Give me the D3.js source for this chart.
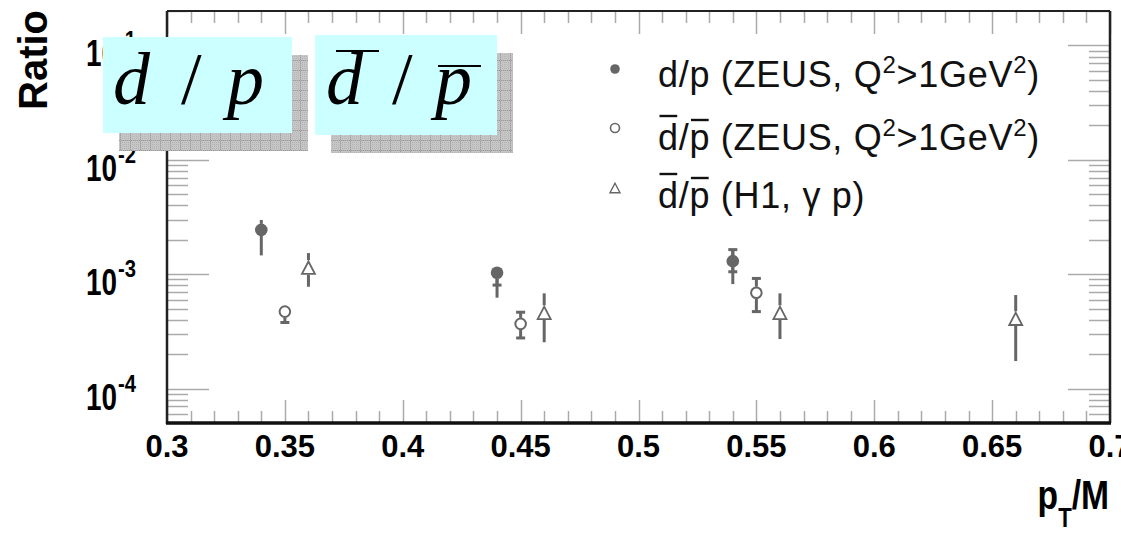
<!DOCTYPE html>
<html><head><meta charset="utf-8">
<script src="https://cdn.jsdelivr.net/npm/d3@7"></script>
<style>
body{margin:0;background:#fff;overflow:hidden;}
svg{display:block;}
</style></head><body>
<svg id="chart" width="1121" height="533"></svg>
<script>
// ZEUS d/p  (stat errors with caps, total errors without)
const dpX = [0.34, 0.44, 0.54];
const dpY = [2.44e-3, 1.03e-3, 1.30e-3];
const dpStatLo = [2.30e-3, 8.03e-4, 1.05e-3];
const dpStatHi = [2.60e-3, 1.10e-3, 1.64e-3];
const dpTotLo = [1.46e-3, 6.23e-4, 8.19e-4];
const dpTotHi = [2.98e-3, 1.10e-3, 1.64e-3];
// ZEUS dbar/pbar
const dbX = [0.35, 0.45, 0.55];
const dbY = [4.71e-4, 3.68e-4, 6.88e-4];
const dbStatLo = [3.78e-4, 2.77e-4, 4.71e-4];
const dbStatHi = [5.10e-4, 4.65e-4, 9.18e-4];
// H1 photoproduction dbar/pbar
const h1X = [0.36, 0.46, 0.56, 0.66];
const h1Y = [1.14e-3, 4.59e-4, 4.59e-4, 4.07e-4];
const h1Lo = [7.76e-4, 2.54e-4, 2.71e-4, 1.74e-4];
const h1Hi = [1.53e-3, 6.80e-4, 6.80e-4, 6.57e-4];

const xMajorTicks = [0.3, 0.35, 0.4, 0.45, 0.5, 0.55, 0.6, 0.65, 0.7];
const xTickLabels = ["0.3", "0.35", "0.4", "0.45", "0.5", "0.55", "0.6", "0.65", "0.7"];
const yDecades = [1e-4, 1e-3, 1e-2, 1e-1];
const yExponents = ["-4", "-3", "-2", "-1"];

const legendEntries = [
  [{t:"d"},{t:"/"},{t:"p"},{t:" (ZEUS, Q"},{t:"2",sup:true},{t:">1GeV"},{t:"2",sup:true},{t:")"}],
  [{t:"d",bar:true},{t:"/"},{t:"p",bar:true},{t:" (ZEUS, Q"},{t:"2",sup:true},{t:">1GeV"},{t:"2",sup:true},{t:")"}],
  [{t:"d",bar:true},{t:"/"},{t:"p",bar:true},{t:" (H1, \u03B3 p)"}]
];
const legendMarkers = ["filled", "open", "triangle"];

const SANS = "'Liberation Sans', Arial, Helvetica, sans-serif";
const SERIF = "'Liberation Serif', 'Times New Roman', serif";

const svg = d3.select("#chart").style("font-family", SANS);
const plot = {left:167, right:1110, top:11, bottom:423};

const x = d3.scaleLinear().domain([0.3, 0.7]).range([plot.left, plot.right]);
const y = d3.scaleLog().domain([5e-5, 0.2]).range([plot.bottom, plot.top]);

const MARK = "#666";
const TICK = "#aaa";

// ---- tick marks ----
const tickG = svg.append("g").attr("stroke", TICK).attr("stroke-width", 1.5);
x.ticks(40).forEach(t => {
  const major = Math.abs(t * 20 - Math.round(t * 20)) < 1e-6;
  const len = major ? 23 : 12;
  const px = Math.round(x(t)) + 0.5;
  tickG.append("line").attr("x1", px).attr("x2", px).attr("y1", plot.bottom).attr("y2", plot.bottom - len);
  tickG.append("line").attr("x1", px).attr("x2", px).attr("y1", plot.top).attr("y2", plot.top + len);
});
y.ticks().forEach(t => {
  const lg = Math.log10(t);
  const major = Math.abs(lg - Math.round(lg)) < 1e-9;
  const len = major ? 42 : 21;
  const py = Math.round(y(t)) + 0.5;
  tickG.append("line").attr("x1", plot.left).attr("x2", plot.left + len).attr("y1", py).attr("y2", py);
  tickG.append("line").attr("x1", plot.right).attr("x2", plot.right - len).attr("y1", py).attr("y2", py);
});

// ---- frame ----
svg.append("line").attr("x1", plot.left).attr("x2", plot.right).attr("y1", plot.top).attr("y2", plot.top)
  .attr("stroke", "#222").attr("stroke-width", 2);
svg.append("line").attr("x1", plot.right).attr("x2", plot.right).attr("y1", plot.top).attr("y2", plot.bottom)
  .attr("stroke", "#222").attr("stroke-width", 2.5);
svg.append("line").attr("x1", plot.left).attr("x2", plot.left).attr("y1", plot.top).attr("y2", plot.bottom + 1)
  .attr("stroke", "#222").attr("stroke-width", 2.5);
svg.append("line").attr("x1", plot.left - 1).attr("x2", plot.right + 1).attr("y1", plot.bottom).attr("y2", plot.bottom)
  .attr("stroke", "#111").attr("stroke-width", 3.5);

// ---- x tick labels ----
xMajorTicks.forEach((t, i) => {
  svg.append("text").attr("x", x(t)).attr("y", 457).attr("text-anchor", "middle")
    .attr("font-size", 31).attr("font-weight", "bold").attr("fill", "#000").text(xTickLabels[i]);
});

// ---- y tick labels (condensed bold, power-of-ten) ----
yDecades.forEach((t, i) => {
  const base = y(t);
  svg.append("text").attr("x", 86).attr("y", base + 21)
    .attr("font-size", 36).attr("font-weight", "bold").attr("fill", "#000")
    .attr("textLength", 31).attr("lengthAdjust", "spacingAndGlyphs").text("10");
  svg.append("text").attr("x", 118).attr("y", base + 3)
    .attr("font-size", 23).attr("font-weight", "bold").attr("fill", "#000")
    .attr("textLength", 18).attr("lengthAdjust", "spacingAndGlyphs").text(yExponents[i]);
});

// ---- axis titles ----
svg.append("text").attr("transform", "translate(47,10) rotate(-90)").attr("text-anchor", "end")
  .attr("font-size", 40).attr("font-weight", "bold").attr("fill", "#000").text("Ratio");
const xt = svg.append("text").attr("transform", "translate(1109,509) scale(0.82,1)").attr("text-anchor", "end")
  .attr("font-size", 41).attr("font-weight", "bold").attr("fill", "#000");
xt.append("tspan").text("p");
xt.append("tspan").attr("dy", 18).attr("font-size", 27).text("T");
xt.append("tspan").attr("dy", -18).text("/M");

// ---- markers & error bars ----
const dataG = svg.append("g");

// vertical error segment from the marker edge outwards, optional caps
function errorBar(cx, v, lo, hi, gapUp, gapDown, cap) {
  const cy = y(v);
  const yHi = y(hi), yLo = y(lo);
  if (yHi < cy - gapUp) {
    dataG.append("line").attr("x1", cx).attr("x2", cx).attr("y1", cy - gapUp).attr("y2", yHi)
      .attr("stroke", MARK).attr("stroke-width", 3);
    if (cap) dataG.append("line").attr("x1", cx - 4.5).attr("x2", cx + 4.5).attr("y1", yHi).attr("y2", yHi)
      .attr("stroke", MARK).attr("stroke-width", 3);
  }
  if (yLo > cy + gapDown) {
    dataG.append("line").attr("x1", cx).attr("x2", cx).attr("y1", cy + gapDown).attr("y2", yLo)
      .attr("stroke", MARK).attr("stroke-width", 3);
    if (cap) dataG.append("line").attr("x1", cx - 4.5).attr("x2", cx + 4.5).attr("y1", yLo).attr("y2", yLo)
      .attr("stroke", MARK).attr("stroke-width", 3);
  }
}

function triPath(cx, cy, s) {
  const h = s * 0.95;
  return `M${cx},${cy - h / 2} L${cx + s / 2},${cy + h / 2} L${cx - s / 2},${cy + h / 2} Z`;
}

// ZEUS d/p: filled circles
dpX.forEach((xv, i) => {
  errorBar(x(xv), dpY[i], dpTotLo[i], dpTotHi[i], 6, 6, false);
  errorBar(x(xv), dpY[i], dpStatLo[i], dpStatHi[i], 6, 6, true);
  dataG.append("circle").attr("cx", x(xv)).attr("cy", y(dpY[i])).attr("r", 6.3).attr("fill", MARK);
});
// ZEUS dbar/pbar: open circles
dbX.forEach((xv, i) => {
  errorBar(x(xv), dbY[i], dbStatLo[i], dbStatHi[i], 6, 6, true);
  dataG.append("circle").attr("cx", x(xv)).attr("cy", y(dbY[i])).attr("r", 5.3)
    .attr("fill", "none").attr("stroke", MARK).attr("stroke-width", 2);
});
// H1 dbar/pbar: open triangles
h1X.forEach((xv, i) => {
  errorBar(x(xv), h1Y[i], h1Lo[i], h1Hi[i], 7.5, 7, false);
  dataG.append("path").attr("d", triPath(x(xv), y(h1Y[i]), 13))
    .attr("fill", "none").attr("stroke", MARK).attr("stroke-width", 1.8).attr("stroke-linejoin", "miter");
});

// ---- legend ----
const legBase = [87, 150, 208];
const legMarkY = [69, 128, 188];
legendEntries.forEach((parts, r) => {
  const by = legBase[r];
  const my = legMarkY[r];
  const kind = legendMarkers[r];
  if (kind === "filled") svg.append("circle").attr("cx", 615).attr("cy", my).attr("r", 4.8).attr("fill", MARK);
  else if (kind === "open") svg.append("circle").attr("cx", 615).attr("cy", my).attr("r", 4.5)
    .attr("fill", "none").attr("stroke", MARK).attr("stroke-width", 1.6);
  else svg.append("path").attr("d", triPath(615, my, 10)).attr("fill", "none").attr("stroke", MARK).attr("stroke-width", 1.4);

  const t = svg.append("text").attr("x", 658).attr("y", by).attr("font-size", 36)
    .attr("letter-spacing", 0.7).attr("fill", "#111");
  const bars = [];
  let idx = 0, prevSup = false;
  parts.forEach(p => {
    const ts = t.append("tspan").text(p.t);
    if (p.sup) ts.attr("font-size", 24).attr("dy", -14);
    else if (prevSup) ts.attr("dy", 14);
    if (p.bar) bars.push({i: idx, ch: p.t});
    idx += p.t.length;
    prevSup = !!p.sup;
  });
  const node = t.node();
  bars.forEach(b => {
    const ext = node.getExtentOfChar(b.i);
    const ly = by - (b.ch === "d" ? 34 : 30);
    svg.append("line").attr("x1", ext.x + 1.5).attr("x2", ext.x + ext.width - 1.5)
      .attr("y1", ly).attr("y2", ly).attr("stroke", "#111").attr("stroke-width", 2.4);
  });
});

// ---- ratio label boxes ----
const defs = svg.append("defs");
const pat = defs.append("pattern").attr("id", "shadowGrid").attr("patternUnits", "userSpaceOnUse")
  .attr("width", 10).attr("height", 10);
pat.append("rect").attr("width", 10).attr("height", 10).attr("fill", "#c6c6c6");
pat.append("path").attr("d", "M0,0.5 H10 M0.5,0 V10").attr("stroke", "#9a9a9a").attr("stroke-width", 1);
const dots = defs.append("pattern").attr("id", "shadowDots").attr("patternUnits", "userSpaceOnUse")
  .attr("width", 2).attr("height", 2);
dots.append("rect").attr("width", 1).attr("height", 1).attr("fill", "#b4b4b4");

function labelBox(bx, by, bw, bh, sx, sy) {
  svg.append("rect").attr("x", bx + sx).attr("y", by + sy).attr("width", bw).attr("height", bh).attr("fill", "url(#shadowGrid)");
  svg.append("rect").attr("x", bx + sx).attr("y", by + sy).attr("width", bw).attr("height", bh).attr("fill", "url(#shadowDots)");
  svg.append("rect").attr("x", bx).attr("y", by).attr("width", bw).attr("height", bh).attr("fill", "#ccffff");
}
labelBox(103, 37, 189, 96, 16, 18);
labelBox(315, 35, 182, 100, 16, 18);

function glyph(gx, gy, s, italic) {
  svg.append("text").attr("x", gx).attr("y", gy).style("font-family", SERIF).attr("font-size", 74)
    .attr("font-style", italic ? "italic" : "normal").attr("fill", "#000").text(s);
}
glyph(113, 104, "d", true);
glyph(181, 104, "/", false);
glyph(227, 104, "p", true);
glyph(326, 104, "d", true);
glyph(392, 104, "/", false);
glyph(435, 104, "p", true);
svg.append("line").attr("x1", 336).attr("x2", 379).attr("y1", 51).attr("y2", 51).attr("stroke", "#000").attr("stroke-width", 2.2);
svg.append("line").attr("x1", 438).attr("x2", 481).attr("y1", 66).attr("y2", 66).attr("stroke", "#000").attr("stroke-width", 2.2);
</script>
</body></html>
